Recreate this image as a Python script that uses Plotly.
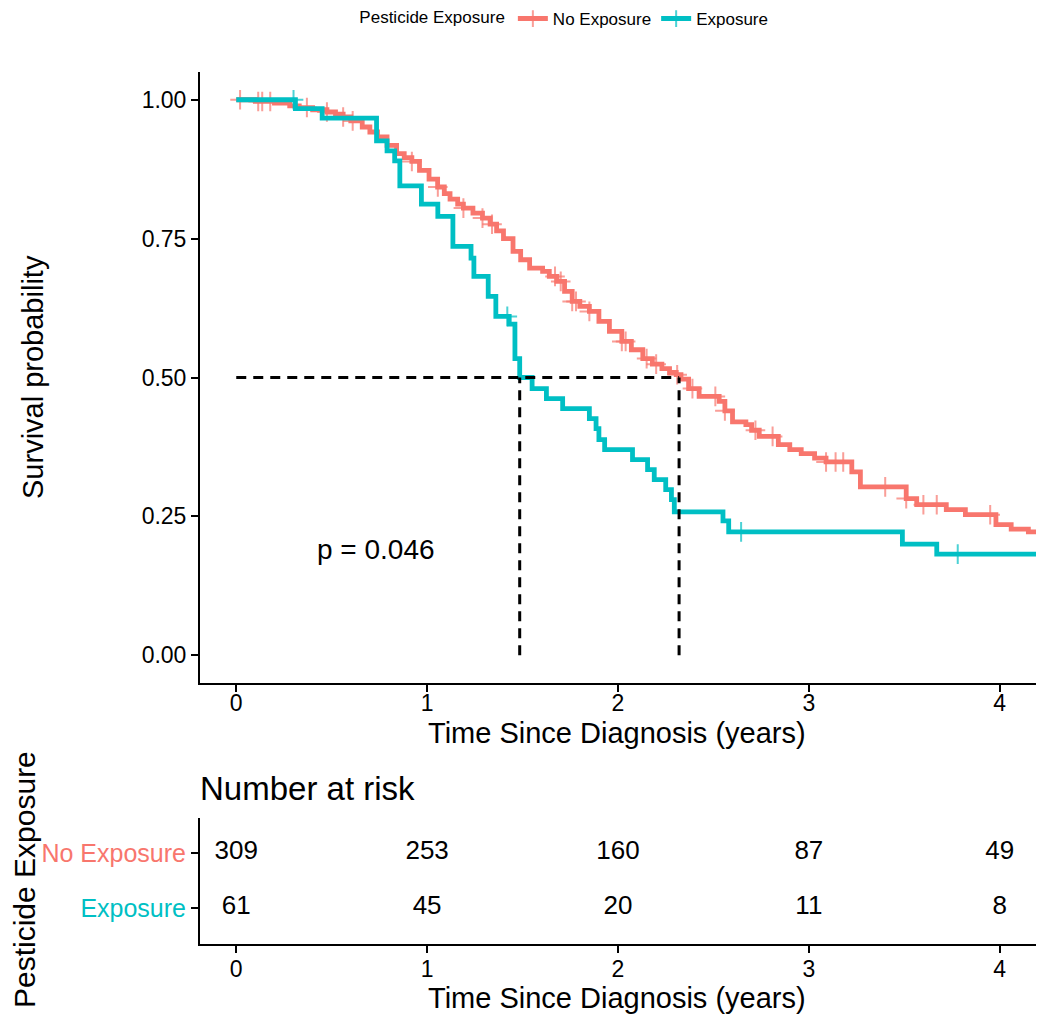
import plotly.graph_objects as go
import numpy as np

# ---------------- data ----------------
groups = ["No Exposure", "Exposure"]
colors = ["#F8766D", "#00BFC4"]

no_t = [0.00, 0.10, 0.20, 0.28, 0.33, 0.40, 0.475, 0.52, 0.56, 0.60, 0.66, 0.70, 0.74,
        0.79, 0.84, 0.88, 0.92, 0.96, 1.01, 1.055, 1.09, 1.12, 1.16, 1.19, 1.24, 1.29,
        1.33, 1.364, 1.40, 1.45, 1.49, 1.537, 1.605, 1.64, 1.68, 1.72, 1.76, 1.80, 1.85,
        1.90, 1.955, 2.02, 2.07, 2.13, 2.18, 2.23, 2.27, 2.305, 2.33, 2.37, 2.425, 2.53,
        2.56, 2.60, 2.67, 2.70, 2.74, 2.84, 2.90, 2.96, 3.03, 3.09, 3.225, 3.27, 3.51,
        3.565, 3.72, 3.82, 3.98, 4.06, 4.15]
no_s = [1.000, 0.997, 0.994, 0.989, 0.986, 0.982, 0.978, 0.974, 0.969, 0.962, 0.951, 0.942,
        0.933, 0.918, 0.903, 0.896, 0.889, 0.873, 0.857, 0.843, 0.831, 0.821, 0.812, 0.805,
        0.796, 0.787, 0.776, 0.764, 0.750, 0.727, 0.712, 0.697, 0.691, 0.682, 0.673, 0.655,
        0.637, 0.628, 0.619, 0.601, 0.583, 0.565, 0.550, 0.534, 0.524, 0.516, 0.509, 0.505,
        0.497, 0.480, 0.466, 0.457, 0.440, 0.420, 0.415, 0.405, 0.394, 0.379, 0.370, 0.363,
        0.355, 0.348, 0.330, 0.303, 0.282, 0.271, 0.262, 0.253, 0.235, 0.227, 0.222]
no_censor = [0.02, 0.115, 0.136, 0.178, 0.37, 0.475, 0.56, 0.61, 0.92, 1.056, 1.19, 1.29,
             1.34, 1.67, 1.70, 1.76, 1.78, 1.85, 2.02, 2.04, 2.15, 2.20, 2.31, 2.39, 2.51,
             2.56, 2.72, 2.81, 3.09, 3.14, 3.18, 3.40, 3.51, 3.60, 3.67, 3.95]

ex_t = [0.00, 0.31, 0.45, 0.735, 0.79, 0.83, 0.857, 0.97, 1.056, 1.135, 1.23, 1.245, 1.32,
        1.36, 1.43, 1.46, 1.485, 1.55, 1.625, 1.71, 1.85, 1.885, 1.90, 1.93, 2.076, 2.155,
        2.19, 2.25, 2.28, 2.295, 2.55, 2.58, 3.49, 3.67]
ex_s = [1.000, 0.984, 0.967, 0.926, 0.908, 0.890, 0.845, 0.812, 0.790, 0.736, 0.715, 0.682,
        0.646, 0.610, 0.596, 0.534, 0.500, 0.480, 0.462, 0.444, 0.426, 0.408, 0.388, 0.370,
        0.352, 0.334, 0.316, 0.298, 0.280, 0.258, 0.242, 0.222, 0.200, 0.182]
ex_censor = [0.30, 1.42, 2.645, 3.78]

followup_end = [4.25, 4.25]
medians = [2.32, 1.485]
p_text = "p = 0.046"

risk_times = [0, 1, 2, 3, 4]
risk_no = [309, 253, 160, 87, 49]
risk_ex = [61, 45, 20, 11, 8]
tick_x = [0, 1, 2, 3, 4]
tick_y = [0, 0.25, 0.5, 0.75, 1.0]
tick_y_text = ["0.00", "0.25", "0.50", "0.75", "1.00"]

FONT = "Liberation Sans, Arial, sans-serif"

# page is drawn with an 8px body margin -> compensate in the figure margins
L, R, T, B = 192, 22, 64, 83
PW, PH = 1050 - L - R, 1019 - T - B   # 836 x 872

def py(page_y):   # page pixel y -> paper fraction
    return (1019 - B + 8 - page_y) / PH

def px(page_x):   # page pixel x -> paper fraction
    return (page_x - 8 - L) / PW

# ---------------- build figure ----------------
fig = go.Figure()

def km_trace(t, s, cens, end, name, color):
    t = np.asarray(t); s = np.asarray(s)
    xs, ys, sz = [], [], []
    pts = [(tt, ss, 0) for tt, ss in zip(t, s)]
    for c in cens:
        idx = np.searchsorted(t, c, side="right") - 1
        pts.append((c, s[idx], 1))
    pts.append((end, s[-1], 0))
    pts.sort(key=lambda p: (p[0], -p[2]))
    for tt, ss, isc in pts:
        xs.append(tt); ys.append(ss); sz.append(14 if isc else 0)
    return go.Scatter(x=xs, y=ys, mode="lines+markers", name=name,
                      line=dict(color=color, width=4.8, shape="hv"),
                      marker=dict(symbol="cross-thin", size=sz, color=color,
                                  line=dict(color=color, width=2)),
                      xaxis="x", yaxis="y", legendgroup=name)

fig.add_trace(km_trace(no_t, no_s, no_censor, followup_end[0], groups[0], colors[0]))
fig.add_trace(km_trace(ex_t, ex_s, ex_censor, followup_end[1], groups[1], colors[1]))

# median lines
dash = "10px,7px"
fig.add_trace(go.Scatter(x=[0, max(medians)], y=[0.5, 0.5], mode="lines",
                         line=dict(color="black", width=3, dash=dash),
                         showlegend=False, hoverinfo="skip", xaxis="x", yaxis="y"))
for m in medians:
    fig.add_trace(go.Scatter(x=[m, m], y=[0, 0.5], mode="lines",
                             line=dict(color="black", width=3, dash=dash),
                             showlegend=False, hoverinfo="skip", xaxis="x", yaxis="y"))

fig.add_annotation(x=0.73, y=0.19, xref="x", yref="y", text=p_text, showarrow=False,
                   font=dict(size=28, color="black", family=FONT))

# risk table
fig.add_trace(go.Scatter(x=risk_times, y=[2] * len(risk_times), mode="text",
                         text=[str(v) for v in risk_no], textfont=dict(size=26, color="black", family=FONT),
                         showlegend=False, hoverinfo="skip", xaxis="x2", yaxis="y2"))
fig.add_trace(go.Scatter(x=risk_times, y=[1] * len(risk_times), mode="text",
                         text=[str(v) for v in risk_ex], textfont=dict(size=26, color="black", family=FONT),
                         showlegend=False, hoverinfo="skip", xaxis="x2", yaxis="y2"))

axis_common = dict(showgrid=False, zeroline=False, showline=True, linecolor="black",
                   linewidth=2, ticks="outside", ticklen=7, tickwidth=2, tickcolor="black",
                   tickfont=dict(size=23, color="black", family=FONT), automargin=False)

xr = [-0.19, 4.19]
fig.update_layout(
    width=1050, height=1019,
    margin=dict(l=L, r=R, t=T, b=B, autoexpand=False),
    plot_bgcolor="white", paper_bgcolor="white",
    font=dict(family=FONT, color="black"),
    xaxis=dict(**axis_common, range=xr, tickvals=tick_x, domain=[0, 1], anchor="y",
               ticklabelstandoff=-9),
    yaxis=dict(**axis_common, range=[-0.05, 1.05], tickvals=tick_y, ticktext=tick_y_text,
               domain=[py(683), 1], anchor="x"),
    xaxis2=dict(**axis_common, range=xr, tickvals=tick_x, domain=[0, 1], anchor="y2",
                ticklabelstandoff=-4),
    yaxis2=dict(**axis_common, range=[0.345, 2.636], tickvals=[1, 2],
                ticktext=[f'<span style="color:{colors[1]}">{groups[1]}</span>',
                          f'<span style="color:{colors[0]}">{groups[0]}</span>'],
                domain=[0, py(818)], anchor="x2"),
    legend=dict(orientation="h", x=0.437, xanchor="center", y=py(19), yanchor="middle",
                title=dict(text="Pesticide Exposure", font=dict(size=17)),
                font=dict(size=17), itemsizing="constant", itemwidth=30,
                bgcolor="rgba(0,0,0,0)"),
    showlegend=True,
)
fig.layout.yaxis2.tickfont = dict(size=25, family=FONT)

def ann(text, x, y, size, angle=0, xanchor="center"):
    fig.add_annotation(text=text, xref="paper", yref="paper", x=x, y=y,
                       xanchor=xanchor, yanchor="middle", textangle=angle, showarrow=False,
                       font=dict(size=size, color="black", family=FONT))

ann("Time Since Diagnosis (years)", px(617), py(733), 29)
ann("Time Since Diagnosis (years)", px(617), py(998), 29)
ann("Survival probability", px(33), py(377), 29, angle=-90)
ann("Pesticide Exposure", px(24), py(880), 30, angle=-90)
ann("Number at risk", px(198), py(788), 33, xanchor="left")

fig.write_html("out.html")
